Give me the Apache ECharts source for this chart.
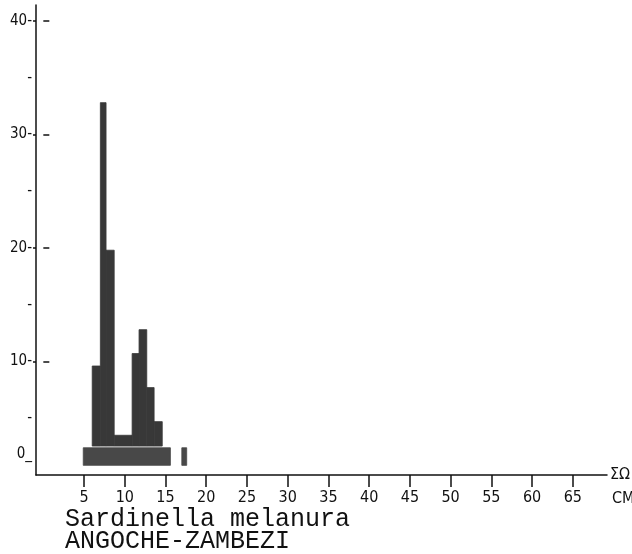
<!DOCTYPE html>
<html><head><meta charset="utf-8">
<script src="https://cdn.jsdelivr.net/npm/echarts@6/dist/echarts.min.js"></script>
<style>html,body{margin:0;padding:0;background:#fff}#c{width:632px;height:554px}</style>
</head><body><div id="c"></div>
<script>
// Histogram classes (cm) and counts
const binStart = [6.0, 7.0, 7.7, 8.7, 10.9, 11.75, 12.7, 13.6];
const binEnd   = [7.0, 7.7, 8.7, 10.9, 11.75, 12.7, 13.6, 14.6];
const counts   = [9.6, 32.8, 19.8, 3.5, 10.7, 12.8, 7.7, 4.7];
// bottom row of the histogram
const rowStart  = [4.9, 17.0];
const rowEnd    = [15.6, 17.6];
const rowCounts = [2.4, 2.4];
const baseLevel = 0.85;
const xTicks = [5, 10, 15, 20, 25, 30, 35, 40, 45, 50, 55, 60, 65];
const yMajor = [10, 20, 30, 40];
const yLabels = [0, 10, 20, 30, 40];
const yMinor = [5, 15, 25, 35];
const titleLines = ['Sardinella melanura', 'ANGOCHE-ZAMBEZI'];
const xName = 'ΣΩ';
const unitName = 'CM';

const X_MIN = -0.9, X_MAX = 69.2, Y_MIN = 0, Y_MAX = 41.4;
const FONT = "'DejaVu Sans Condensed', 'DejaVu Sans', sans-serif";
const INK = '#111';

const upper = binStart.map((s, i) => [s, binEnd[i], counts[i]]);
const row = rowStart.map((s, i) => [s, rowEnd[i], rowCounts[i]]);

function makeRender(bottom, fill) {
  return function (params, api) {
    const p0 = api.coord([api.value(0), api.value(2)]);
    const p1 = api.coord([api.value(1), bottom]);
    return {
      type: 'rect',
      shape: { x: p0[0], y: p0[1], width: p1[0] - p0[0], height: p1[1] - p0[1] },
      style: { fill: fill, stroke: fill, lineWidth: 0.8 }
    };
  };
}

const chart = echarts.init(document.getElementById('c'));
chart.setOption({
  animation: false,
  backgroundColor: '#fff',
  title: {
    text: titleLines.join('\n'),
    left: 65, top: 508, padding: 0,
    textStyle: { fontFamily: "'Liberation Mono', monospace", fontSize: 25, fontWeight: 'normal', lineHeight: 22, color: INK }
  },
  grid: { left: 36, right: 25, top: 5, bottom: 79, containLabel: false, outerBoundsMode: 'none' },
  xAxis: [{
    type: 'value', min: X_MIN, max: X_MAX, position: 'bottom',
    axisLine: { show: true, onZero: false, lineStyle: { color: INK, width: 1.5 } },
    axisTick: { show: true, customValues: xTicks, length: 12, inside: false, lineStyle: { color: INK, width: 1.5 } },
    axisLabel: { customValues: xTicks, margin: 15, color: INK, fontFamily: FONT, fontSize: 16 },
    splitLine: { show: false },
    name: xName, nameLocation: 'end', nameGap: 3,
    nameTextStyle: { color: INK, fontSize: 16, fontFamily: FONT }
  }, {
    type: 'value', min: X_MIN, max: X_MAX, position: 'bottom',
    axisLine: { show: false }, axisTick: { show: false }, axisLabel: { show: false }, splitLine: { show: false },
    name: unitName, nameLocation: 'end', nameGap: 5,
    nameTextStyle: { color: INK, fontSize: 16, fontFamily: FONT, verticalAlign: 'top', padding: [16, 0, 0, 0] }
  }],
  yAxis: [{
    type: 'value', min: Y_MIN, max: Y_MAX, position: 'left',
    axisLine: { show: true, onZero: false, lineStyle: { color: INK, width: 1.5 } },
    axisTick: { show: true, customValues: yMajor, length: 3, inside: false, lineStyle: { color: INK, width: 1.5 } },
    axisLabel: {
      customValues: yLabels, margin: 4, color: INK, fontFamily: FONT, fontSize: 15,
      formatter: v => v === 0 ? '{z|0_}' : '{n|' + v + '-}',
      rich: {
        n: { fontFamily: FONT, fontSize: 15, color: INK },
        z: { fontFamily: FONT, fontSize: 15, color: INK, padding: [0, 0, 42, 0] }
      }
    },
    splitLine: { show: false }
  }, {
    type: 'value', min: Y_MIN, max: Y_MAX, position: 'left',
    axisLine: { show: false },
    axisTick: { show: true, customValues: yMajor, length: 6, inside: true, lineStyle: { color: INK, width: 1.5 } },
    axisLabel: { show: false }, splitLine: { show: false }
  }, {
    type: 'value', min: Y_MIN, max: Y_MAX, position: 'left',
    axisLine: { show: false }, axisTick: { show: false },
    axisLabel: { customValues: yMinor, margin: 4, color: INK, fontFamily: FONT, fontSize: 15, formatter: () => '-' },
    splitLine: { show: false }
  }],
  series: [{
    type: 'custom', xAxisIndex: 0, yAxisIndex: 0,
    renderItem: makeRender(baseLevel, '#484848'),
    encode: { x: [0, 1], y: 2 },
    data: row
  }, {
    type: 'custom', xAxisIndex: 0, yAxisIndex: 0,
    renderItem: makeRender(rowCounts[0] + 0.15, '#383838'),
    encode: { x: [0, 1], y: 2 },
    data: upper
  }]
});
</script>
</body></html>
